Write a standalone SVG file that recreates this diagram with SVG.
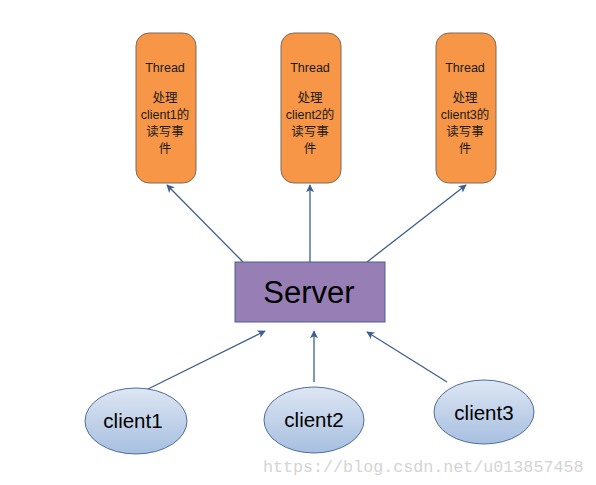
<svg xmlns="http://www.w3.org/2000/svg" width="596" height="485" viewBox="0 0 596 485">
<style>
.thread{fill:#f79646;stroke:#7d6b5d;stroke-width:1}
.tt{font-family:"Liberation Sans","Noto Sans CJK SC",sans-serif;font-size:12.5px;fill:#1a1a1a;text-anchor:middle}
.conn{stroke:#3e5f8e;stroke-width:1.3;fill:none;marker-end:url(#ah)}
.client{fill:url(#cg);stroke:#4e6e9c;stroke-width:1}
.ct{font-family:"Liberation Sans",sans-serif;font-size:20.5px;fill:#000;text-anchor:middle}
</style>
<defs>
<marker id="ah" viewBox="0 0 10 10" refX="9" refY="5" markerWidth="8" markerHeight="8" markerUnits="userSpaceOnUse" orient="auto">
<path d="M0,0 L10,5 L0,10 L2.5,5 Z" fill="#3e5f8e"/>
</marker>
<linearGradient id="cg" x1="0" y1="0" x2="0" y2="1">
<stop offset="0" stop-color="#dde6f3"/>
<stop offset="1" stop-color="#a7bfe0"/>
</linearGradient>
</defs>
<rect width="596" height="485" fill="#fff"/>
<g id="connectors">
<line class="conn" x1="243" y1="262" x2="167" y2="185"/>
<line class="conn" x1="310" y1="262" x2="310" y2="185"/>
<line class="conn" x1="367" y1="262" x2="466" y2="185"/>
<line class="conn" x1="146" y1="390" x2="265" y2="331"/>
<line class="conn" x1="314" y1="382" x2="314" y2="331"/>
<line class="conn" x1="447" y1="382" x2="367" y2="332"/>
</g>
<g id="thread1">
<rect class="thread" x="136" y="33" width="60" height="150" rx="13"/>
<text class="tt" x="165" y="72">Thread</text>
<text class="tt" x="165" y="102">处理</text>
<text class="tt" x="165" y="119">client1的</text>
<text class="tt" x="165" y="136">读写事</text>
<text class="tt" x="165" y="153">件</text>
</g>
<g id="thread2">
<rect class="thread" x="281" y="33" width="60" height="150" rx="13"/>
<text class="tt" x="310" y="72">Thread</text>
<text class="tt" x="310" y="102">处理</text>
<text class="tt" x="310" y="119">client2的</text>
<text class="tt" x="310" y="136">读写事</text>
<text class="tt" x="310" y="153">件</text>
</g>
<g id="thread3">
<rect class="thread" x="436" y="33" width="60" height="150" rx="13"/>
<text class="tt" x="465" y="72">Thread</text>
<text class="tt" x="465" y="102">处理</text>
<text class="tt" x="465" y="119">client3的</text>
<text class="tt" x="465" y="136">读写事</text>
<text class="tt" x="465" y="153">件</text>
</g>
<g id="server">
<rect x="235" y="262" width="150" height="60" fill="#977fb5" stroke="#4a5f8c" stroke-width="1"/>
<text x="309" y="303" font-family="Liberation Sans,sans-serif" font-size="31" text-anchor="middle" fill="#000">Server</text>
</g>
<g id="client1">
<ellipse class="client" cx="136" cy="421" rx="51" ry="33"/>
<text class="ct" x="133" y="428">client1</text>
</g>
<g id="client2">
<ellipse class="client" cx="314" cy="420" rx="50" ry="33"/>
<text class="ct" x="314" y="427">client2</text>
</g>
<g id="client3">
<ellipse class="client" cx="484" cy="412" rx="50" ry="32"/>
<text class="ct" x="484" y="420">client3</text>
</g>
<text x="263" y="472" font-family="Liberation Mono,monospace" font-size="16.7" fill="#d4d4d4">https://blog.csdn.net/u013857458</text>
</svg>
